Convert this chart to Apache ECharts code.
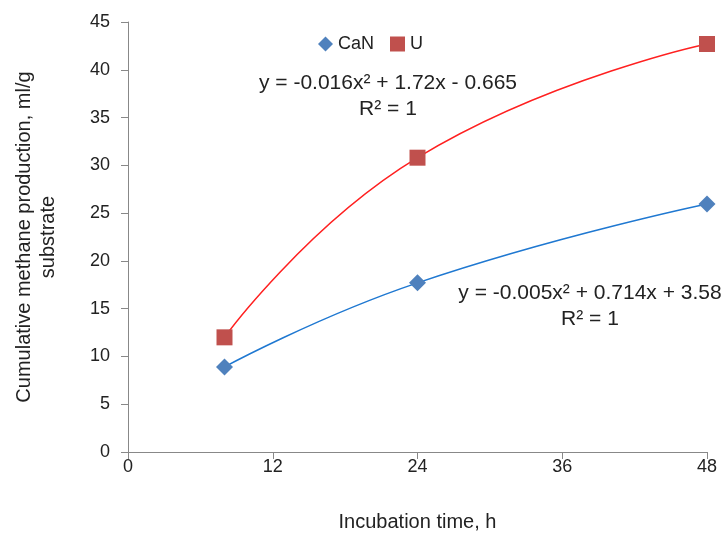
<!DOCTYPE html>
<html>
<head>
<meta charset="utf-8">
<script src="https://cdn.jsdelivr.net/npm/echarts@6/dist/echarts.min.js"></script>
<style>html,body{margin:0;padding:0;background:#fff}#c{width:727px;height:537px}</style>
</head>
<body>
<div id="c"></div>
<script>
var hours = [8, 24, 48];
var canValues = [8.9, 17.7, 25.95];
var uValues = [12.0, 30.8, 42.7];
var xTicks = [0, 12, 24, 36, 48];
var yTicks = [0, 5, 10, 15, 20, 25, 30, 35, 40, 45];
var seriesNames = ['CaN', 'U'];
var eqU = ['y = -0.016x² + 1.72x - 0.665', 'R² = 1'];
var eqCaN = ['y = -0.005x² + 0.714x + 3.58', 'R² = 1'];

function pairs(xs, ys) { return xs.map(function (x, i) { return [x, ys[i]]; }); }

var font = 'Liberation Sans';
var txt = '#222';
var chart = echarts.init(document.getElementById('c'));
chart.setOption({
  animation: false,
  textStyle: { fontFamily: font },
  grid: { left: 128, right: 20, top: 22, bottom: 85 },
  legend: {
    top: 30, left: 313, itemGap: 16, itemWidth: 15, itemHeight: 15,
    textStyle: { fontSize: 18, color: txt, fontFamily: font },
    data: [{ name: seriesNames[0], icon: 'diamond' }, { name: seriesNames[1], icon: 'rect' }]
  },
  xAxis: {
    type: 'value', min: xTicks[0], max: xTicks[xTicks.length - 1], interval: 12,
    name: 'Incubation time, h', nameLocation: 'middle', nameGap: 60,
    nameTextStyle: { fontSize: 20, color: txt },
    axisLine: { lineStyle: { color: '#888', width: 1 } },
    axisTick: { show: true, length: 7, lineStyle: { color: '#888' } },
    axisLabel: { fontSize: 18, color: txt, margin: 6 },
    splitLine: { show: false }
  },
  yAxis: {
    type: 'value', min: yTicks[0], max: yTicks[yTicks.length - 1], interval: 5,
    name: 'Cumulative methane production, ml/g\nsubstrate', nameLocation: 'middle', nameGap: 68,
    nameTextStyle: { fontSize: 20, color: txt, lineHeight: 24 },
    axisLine: { show: true, lineStyle: { color: '#888', width: 1 } },
    axisTick: { show: true, length: 7, lineStyle: { color: '#888' } },
    axisLabel: { fontSize: 18, color: txt, margin: 18 },
    splitLine: { show: false }
  },
  series: [
    {
      name: seriesNames[0], type: 'line', smooth: 0.5, data: pairs(hours, canValues),
      symbol: 'diamond', symbolSize: 17,
      itemStyle: { color: '#4F81BD' },
      lineStyle: { color: '#1F78D1', width: 1.5 }, z: 3
    },
    {
      name: seriesNames[1], type: 'line', smooth: 0.5, data: pairs(hours, uValues),
      symbol: 'rect', symbolSize: 16,
      itemStyle: { color: '#C0504D' },
      lineStyle: { color: '#FF2020', width: 1.5 }, z: 3
    }
  ],
  graphic: [
    { type: 'text', style: { text: eqU[0] + '\n' + eqU[1], textAlign: 'center', fill: txt, font: '21px "' + font + '"', lineHeight: 26 }, position: [388, 70] },
    { type: 'text', style: { text: eqCaN[0] + '\n' + eqCaN[1], textAlign: 'center', fill: txt, font: '21px "' + font + '"', lineHeight: 26 }, position: [590, 280] }
  ]
});
</script>
</body>
</html>
